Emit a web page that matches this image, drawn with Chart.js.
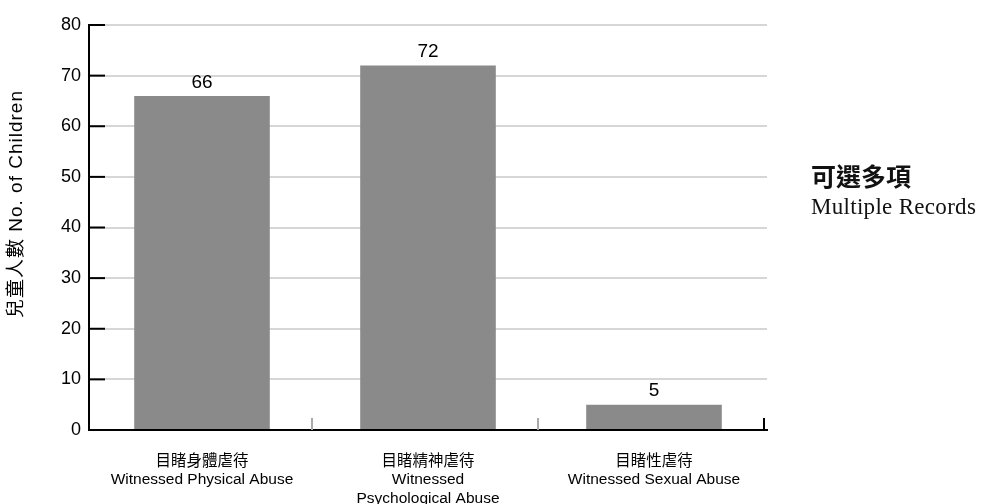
<!DOCTYPE html>
<html>
<head>
<meta charset="utf-8">
<script src="https://cdn.jsdelivr.net/npm/chart.js@4.4.1/dist/chart.umd.min.js"></script>
<style>
  html, body { margin: 0; padding: 0; background: #fff; }
  #wrap { position: relative; width: 987px; height: 504px; }
  #note { position: absolute; left: 811px; top: 159px; color: #111; }
  #note .zh { font: bold 25px "Noto Sans CJK TC", "Noto Sans CJK SC", sans-serif; line-height: 32px; }
  #note .en { font: 23px "Liberation Serif", "DejaVu Serif", serif; letter-spacing: 0.3px; line-height: 30px; margin-top: 1px; }
</style>
</head>
<body>
<div id="wrap">
  <canvas id="c" width="987" height="504"></canvas>
  <div id="note"><div class="zh">可選多項</div><div class="en">Multiple Records</div></div>
</div>
<script>
const categories = [
  ["目睹身體虐待", "Witnessed Physical Abuse"],
  ["目睹精神虐待", "Witnessed", "Psychological Abuse"],
  ["目睹性虐待", "Witnessed Sexual Abuse"]
];
const childCounts = [66, 72, 5];
const yTicks = [0, 10, 20, 30, 40, 50, 60, 70, 80];
const yTitle = '兒童人數 No. of Children';

const FONT = '"Liberation Sans", "Noto Sans CJK TC", Arial, sans-serif';

// Draws value labels, the y title, inward y tick marks and category separators
const decorations = {
  id: 'decorations',
  afterDatasetsDraw(chart) {
    const ctx = chart.ctx;
    const x = chart.scales.x, y = chart.scales.y;
    ctx.save();
    // value labels above bars
    ctx.fillStyle = '#000';
    ctx.font = '19px ' + FONT;
    ctx.textAlign = 'center';
    ctx.textBaseline = 'bottom';
    chart.getDatasetMeta(0).data.forEach((bar, i) => {
      ctx.fillText(String(childCounts[i]), bar.x, bar.y - 4);
    });
    // rotated y axis title
    ctx.save();
    ctx.translate(17, 204);
    ctx.rotate(-Math.PI / 2);
    ctx.font = '19px ' + FONT;
    ctx.letterSpacing = '1px';
    ctx.textBaseline = 'middle';
    ctx.fillText(yTitle, 0, 0);
    ctx.restore();
    // y tick marks pointing into the plot
    ctx.strokeStyle = '#000';
    ctx.lineWidth = 2;
    yTicks.forEach(v => {
      const py = y.getPixelForValue(v);
      ctx.beginPath();
      ctx.moveTo(x.left, py);
      ctx.lineTo(x.left + 16, py);
      ctx.stroke();
    });
    // category separators rising from the x axis
    const n = categories.length;
    for (let i = 1; i <= n; i++) {
      const px = x.left + (x.right - x.left) * i / n - 3;
      ctx.strokeStyle = i === n ? '#000' : '#aaa';
      ctx.lineWidth = 2;
      ctx.beginPath();
      ctx.moveTo(px, y.bottom);
      ctx.lineTo(px, y.bottom - 12);
      ctx.stroke();
    }
    ctx.restore();
  }
};

new Chart(document.getElementById('c'), {
  type: 'bar',
  data: {
    labels: categories,
    datasets: [{
      data: childCounts,
      backgroundColor: '#8a8a8a',
      barPercentage: 0.6,
      categoryPercentage: 1.0
    }]
  },
  options: {
    responsive: false,
    animation: false,
    layout: { padding: { top: 25, right: 220, left: 0, bottom: 0 } },
    plugins: { legend: { display: false }, tooltip: { enabled: false } },
    scales: {
      x: {
        grid: { display: false },
        border: { color: '#000', width: 2 },
        ticks: {
          color: '#000',
          font: { family: FONT, size: 15.5, lineHeight: 1.17 },
          padding: 15,
          maxRotation: 0,
          autoSkip: false
        },
        afterFit(s) { s.height = 74; }
      },
      y: {
        min: 0, max: 80,
        afterBuildTicks(s) { s.ticks = yTicks.map(v => ({ value: v })); },
        grid: { color: '#d6d6d6', lineWidth: 2, drawTicks: false },
        border: { color: '#000', width: 2 },
        ticks: {
          color: '#000',
          font: { family: FONT, size: 18 },
          padding: 8
        },
        afterFit(s) { s.width = 89; }
      }
    }
  },
  plugins: [decorations]
});
</script>
</body>
</html>
